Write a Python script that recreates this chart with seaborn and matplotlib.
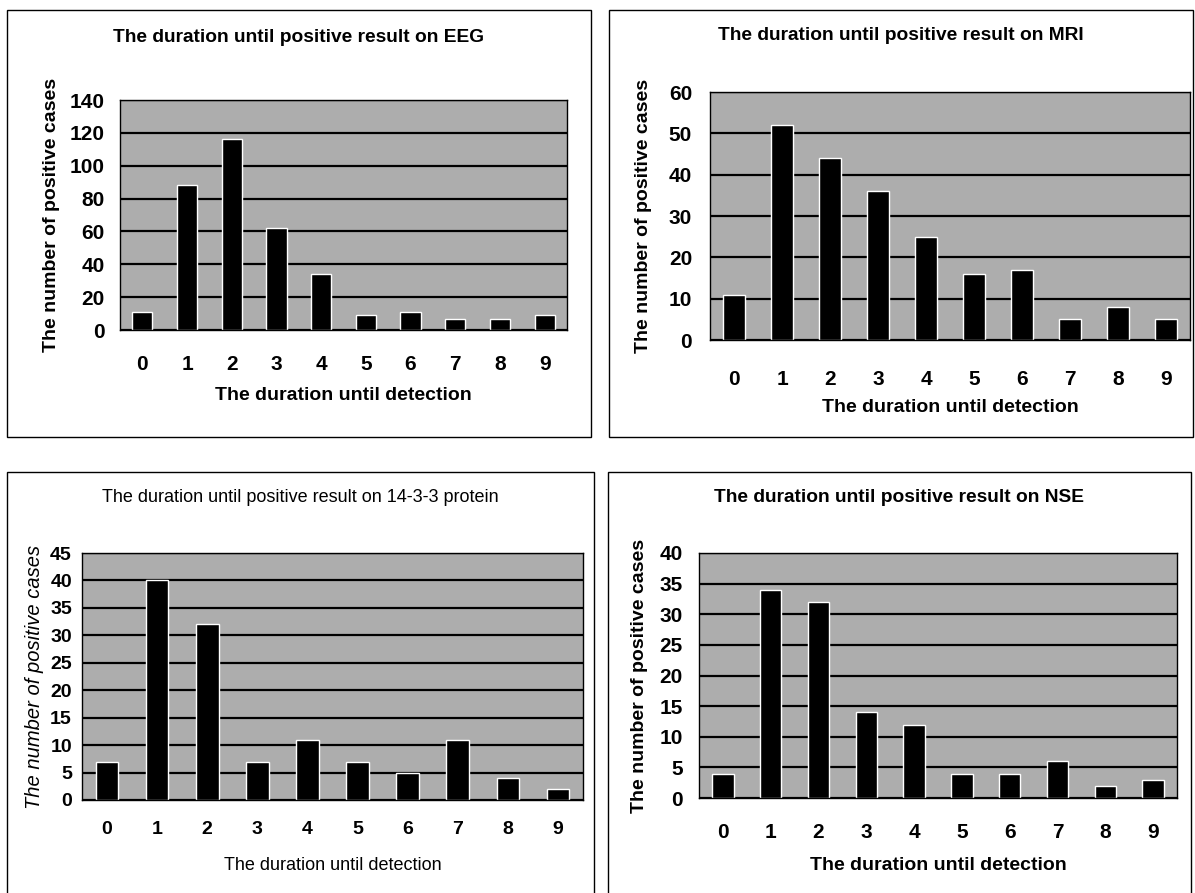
import matplotlib
matplotlib.use("Agg")
import matplotlib.pyplot as plt
from matplotlib.patches import Rectangle
import seaborn as sns
import pandas as pd

# ---- data ----
durations = ["0", "1", "2", "3", "4", "5", "6", "7", "8", "9"]
eeg_counts = [11, 88, 116, 62, 34, 9, 11, 7, 7, 9]
mri_counts = [11, 52, 44, 36, 25, 16, 17, 5, 8, 5]
p1433_counts = [7, 40, 32, 7, 11, 7, 5, 11, 4, 2]
nse_counts = [4, 34, 32, 14, 12, 4, 4, 6, 2, 3]

titles = [
    "The duration until positive result on EEG",
    "The duration until positive result on MRI",
    "The duration until positive result on 14-3-3 protein",
    "The duration until positive result on NSE",
]
xlabel_text = "The duration until detection"
ylabel_text = "The number of positive cases"
ymax_list = [140, 60, 45, 40]
ystep_list = [20, 10, 5, 5]

sns.set_theme(style="white")
plt.rcParams["font.family"] = ["Liberation Sans", "DejaVu Sans"]
plt.rcParams["text.color"] = "black"
plt.rcParams["axes.labelcolor"] = "black"
plt.rcParams["xtick.color"] = "black"
plt.rcParams["ytick.color"] = "black"

W, H = 1195, 893
fig = plt.figure(figsize=(W / 100, H / 100), dpi=100)
fig.patch.set_facecolor("white")


def rect(l, t, r, b):
    return [l / W, 1 - b / H, (r - l) / W, (b - t) / H]


# panel layout in pixels
panels = [
    dict(box=(7, 10, 591, 437), plot=(120, 100, 567, 330), title_y=37,
         ylab_x=52, xtick_y=362, xlab_y=395, ytick_right=105),
    dict(box=(609, 10, 1193, 437), plot=(710, 92, 1190, 340), title_y=35,
         ylab_x=643, xtick_y=377, xlab_y=408, ytick_right=692),
    dict(box=(7, 472, 594, 900), plot=(82, 553, 583, 800), title_y=498,
         ylab_x=35, xtick_y=828, xlab_y=865, ytick_right=72),
    dict(box=(608, 472, 1191, 900), plot=(699, 553, 1177, 798), title_y=498,
         ylab_x=640, xtick_y=830, xlab_y=865, ytick_right=683),
]
series = [eeg_counts, mri_counts, p1433_counts, nse_counts]

for i, (p, vals) in enumerate(zip(panels, series)):
    bl, bt, br, bb = p["box"]
    fig.add_artist(Rectangle((bl / W, 1 - bb / H), (br - bl) / W, (bb - bt) / H,
                             transform=fig.transFigure, fill=False,
                             edgecolor="black", linewidth=1.0))
    l, t, r, b = p["plot"]
    ax = fig.add_axes(rect(l, t, r, b))
    df = pd.DataFrame({"duration": durations, "count": vals})
    sns.barplot(data=df, x="duration", y="count", order=durations,
                color="black", saturation=1, width=0.45, ax=ax)
    ax.set_facecolor("#adadad")
    ymax = ymax_list[i]
    ax.set_ylim(0, ymax)
    ax.set_xlim(-0.5, 9.5)
    ax.set_yticks(range(0, ymax + 1, ystep_list[i]))
    ax.yaxis.grid(True, color="black", linewidth=1.6)
    ax.set_axisbelow(True)
    for s in ax.spines.values():
        s.set_color("black")
        s.set_linewidth(1.0)
        s.set_visible(True)

    narrow = (i == 2)
    tick_size = 14 if narrow else 15

    ypad = (l - p["ytick_right"]) * 0.72
    xpad = (p["xtick_y"] - b - 7) * 0.72
    ax.tick_params(axis="both", length=0, colors="black")
    ax.tick_params(axis="y", pad=ypad)
    ax.tick_params(axis="x", pad=xpad)
    for lab in ax.get_xticklabels() + ax.get_yticklabels():
        lab.set_fontweight("bold")
        lab.set_fontsize(tick_size)

    pw, ph = r - l, b - t
    if narrow:
        ax.set_xlabel(xlabel_text, fontsize=13, fontweight="normal")
        ax.set_ylabel(ylabel_text, fontsize=14.5, fontstyle="italic",
                      fontweight="normal")
        fig.text(((bl + br) / 2) / W, 1 - p["title_y"] / H, titles[i],
                 ha="center", va="center", fontsize=13)
    else:
        ax.set_xlabel(xlabel_text, fontsize=14, fontweight="bold")
        ax.set_ylabel(ylabel_text, fontsize=14, fontweight="bold")
        fig.text(((bl + br) / 2) / W, 1 - p["title_y"] / H, titles[i],
                 ha="center", va="center", fontsize=13.8, fontweight="bold")
    ax.xaxis.set_label_coords(0.5, -(p["xlab_y"] - b) / ph)
    ax.xaxis.label.set_va("center")
    ax.yaxis.set_label_coords(-(l - p["ylab_x"]) / pw, 0.5)
    ax.yaxis.label.set_va("center")

fig.savefig("out.png", dpi=100, facecolor="white")
